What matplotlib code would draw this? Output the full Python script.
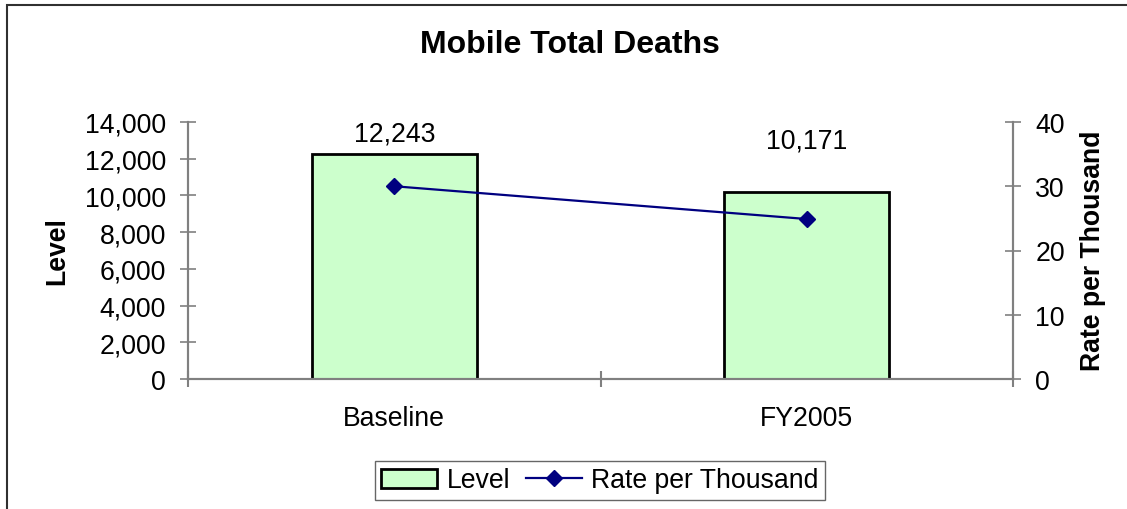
import matplotlib
matplotlib.use("Agg")
import matplotlib.pyplot as plt
from matplotlib.patches import Rectangle
from matplotlib.lines import Line2D
from matplotlib.ticker import FuncFormatter, FixedLocator

plt.rcParams['font.family'] = ['Liberation Sans', 'DejaVu Sans']

categories = ["Baseline", "FY2005"]
level_values = [12243, 10171]
rate_values = [30.0, 24.9]
level_ticks = [0, 2000, 4000, 6000, 8000, 10000, 12000, 14000]
rate_ticks = [0, 10, 20, 30, 40]
title = "Mobile Total Deaths"

W, H = 1127, 510
fig = plt.figure(figsize=(W / 100, H / 100), dpi=100)
fig.patch.set_facecolor("white")

# outer chart frame (cropped at right and bottom)
fig.add_artist(Rectangle((7 / W, -0.1), 1.2, 1 - 5.5 / H + 0.1, transform=fig.transFigure,
                         fill=False, edgecolor="#303030", linewidth=1.5))

left, right, top, bottom = 188, 1013, 123, 380
ax = fig.add_axes([left / W, 1 - bottom / H, (right - left) / W, (bottom - top) / H])
ax2 = ax.twinx()

FS = 19.2
x = list(range(len(categories)))
ax.bar(x, level_values, width=0.40, color="#CCFFCC", edgecolor="black", linewidth=2.0, zorder=2)
ax2.plot(x, rate_values, color="#000080", linewidth=1.6, marker="D", markersize=8,
         markerfacecolor="#000080", markeredgecolor="#000080", zorder=3)

ax.set_xlim(-0.5, len(categories) - 0.5)
ax.set_ylim(level_ticks[0], level_ticks[-1])
ax2.set_ylim(rate_ticks[0], rate_ticks[-1])
ax.set_yticks(level_ticks)
ax2.set_yticks(rate_ticks)
ax.yaxis.set_major_formatter(FuncFormatter(lambda v, p: f"{int(v):,}"))

ax.set_xticks(x)
ax.set_xticklabels(categories)
ax.xaxis.set_minor_locator(FixedLocator([i + 0.5 for i in range(-1, len(categories))]))
ax.tick_params(axis="x", which="major", length=0, pad=19, labelsize=FS)
ax.tick_params(axis="x", which="minor", direction="inout", length=12, width=1.5, color="#808080")
ax.tick_params(axis="y", direction="inout", length=12, width=1.2, color="#808080", pad=10, labelsize=FS)
ax2.tick_params(axis="y", direction="inout", length=12, width=1.2, color="#808080", pad=10, labelsize=FS)

for a in (ax, ax2):
    a.spines["top"].set_visible(False)
    for s in ("left", "right", "bottom"):
        a.spines[s].set_color("#808080")
        a.spines[s].set_linewidth(1.5)
    a.patch.set_visible(False)
ax.set_zorder(1)
ax2.set_zorder(2)

label_offsets = [15, 37]
for xi, v, off in zip(x, level_values, label_offsets):
    ax.annotate(f"{v:,}", (xi, v), xytext=(0, off), textcoords="offset points",
                ha="center", va="center", fontsize=FS)

fig.text(570 / W, 1 - 45 / H, title, ha="center", va="center", fontsize=23, fontweight="bold")
fig.text(57 / W, 1 - 251 / H, "Level", ha="center", va="center", rotation=90,
         fontsize=FS, fontweight="bold")
fig.text(1093 / W, 1 - 251 / H, "Rate per Thousand", ha="center", va="center", rotation=90,
         fontsize=FS, fontweight="bold")

handles = [Rectangle((0, 0), 1, 1, facecolor="#CCFFCC", edgecolor="black", linewidth=2.0),
           Line2D([], [], color="#000080", linewidth=1.6, marker="D", markersize=8)]
leg = fig.legend(handles, ["Level", "Rate per Thousand"], loc="center",
                 bbox_to_anchor=(600 / W, 1 - 481.5 / H), ncol=2, frameon=True, fancybox=False,
                 edgecolor="#404040", fontsize=FS, handlelength=2.1, handletextpad=0.35,
                 columnspacing=0.6, borderpad=0.25, borderaxespad=0)
leg.get_frame().set_linewidth(1.0)

fig.savefig("out.png", dpi=100, facecolor="white")
